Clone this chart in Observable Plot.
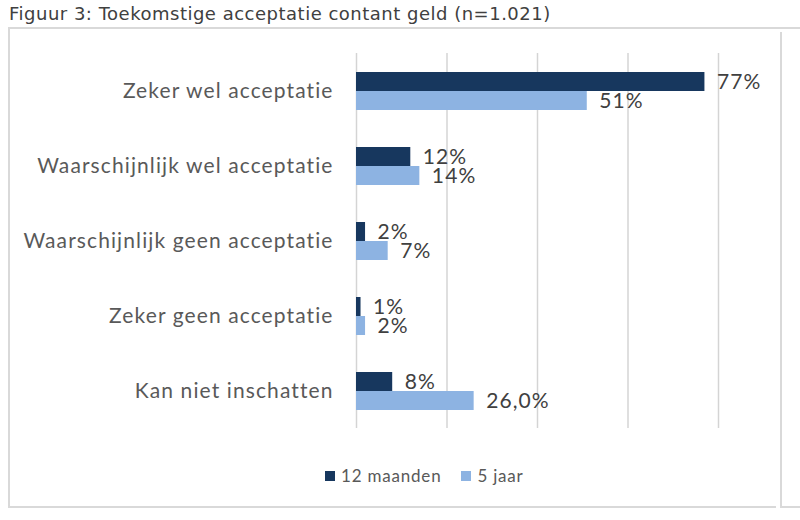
<!DOCTYPE html>
<html>
<head>
<meta charset="utf-8">
<script src="https://cdn.jsdelivr.net/npm/d3@7"></script>
<script src="https://cdn.jsdelivr.net/npm/@observablehq/plot@0.6"></script>
<style>
  html, body { margin: 0; padding: 0; background: #ffffff; }
  #page { position: relative; width: 800px; height: 520px; overflow: hidden; }
  #title { position: absolute; left: 9px; top: 3px; font-family: "DejaVu Sans", Verdana, sans-serif; font-size: 18px; letter-spacing: 0.5px; color: #404040; white-space: nowrap; }
  #chart { position: absolute; left: 0; top: 30px; }
  .line { position: absolute; background: #d9d9d9; }
  #legend { position: absolute; left: 325px; top: 459px; }
  #legend .lg-swatch { margin-right: 20px; font-family: Lato, sans-serif; font-size: 17px; letter-spacing: 0.8px; color: #595959; }
  #legend .lg-swatch > svg { margin-right: 6px; }
</style>
</head>
<body>
<div id="page">
  <div id="chart"></div>
  <div id="title">Figuur 3: Toekomstige acceptatie contant geld (n=1.021)</div>
  <!-- frame around the chart -->
  <div class="line" style="left:8px;top:27px;width:792px;height:2px"></div>
  <div class="line" style="left:8px;top:27px;width:2px;height:481px"></div>
  <div class="line" style="left:8px;top:506px;width:768px;height:2px"></div>
  <div class="line" style="left:780px;top:32px;width:2px;height:476px"></div>
  <div class="line" style="left:780px;top:506px;width:20px;height:2px"></div>
  <div id="legend"></div>
</div>
<script>
// Answer categories, top to bottom
const categories = [
  "Zeker wel acceptatie",
  "Waarschijnlijk wel acceptatie",
  "Waarschijnlijk geen acceptatie",
  "Zeker geen acceptatie",
  "Kan niet inschatten"
];
// Time horizons
const series = ["12 maanden", "5 jaar"];
const seriesColors = ["#17375e", "#8db3e2"];

// Share of respondents (%)
const share12m = [77, 12, 2, 1, 8];
const share5y = [51, 14, 7, 2, 26];
const labels12m = ["77%", "12%", "2%", "1%", "8%"];
const labels5y = ["51%", "14%", "7%", "2%", "26,0%"];

// Vertical gridlines (%)
const gridTicks = [0, 20, 40, 60, 80];

const rows = categories.flatMap((category, i) => [
  {category, series: series[0], value: share12m[i], label: labels12m[i]},
  {category, series: series[1], value: share5y[i], label: labels5y[i]}
]);

const chart = Plot.plot({
  width: 800,
  height: 420,
  marginTop: 22,
  marginBottom: 22,
  marginLeft: 356,
  marginRight: 82,
  style: {fontFamily: "Lato, sans-serif", fontSize: "21px", letterSpacing: "1.1px", color: "#595959", background: "transparent"},
  facet: {data: rows, y: "category"},
  fy: {domain: categories, padding: 0, axis: "left", tickSize: 0, tickPadding: 23, label: null},
  y: {domain: series, paddingInner: 0, paddingOuter: 0.93, axis: null},
  x: {domain: [0, 80], axis: null},
  color: {domain: series, range: seriesColors},
  marks: [
    Plot.ruleX(gridTicks, {stroke: "#d4d4d4", strokeWidth: 1.5}),
    Plot.barX(rows, {x: "value", y: "series", fill: "series"}),
    Plot.text(rows, {x: "value", y: "series", text: "label", dx: 12, textAnchor: "start", fill: "#404040", fontSize: 21, style: "letter-spacing: 0.8px"})
  ]
});
document.getElementById("chart").appendChild(chart);

const legend = Plot.legend({
  color: {domain: series, range: seriesColors},
  legend: "swatches",
  swatchSize: 10,
  className: "lg"
});
document.getElementById("legend").appendChild(legend);
</script>
</body>
</html>
